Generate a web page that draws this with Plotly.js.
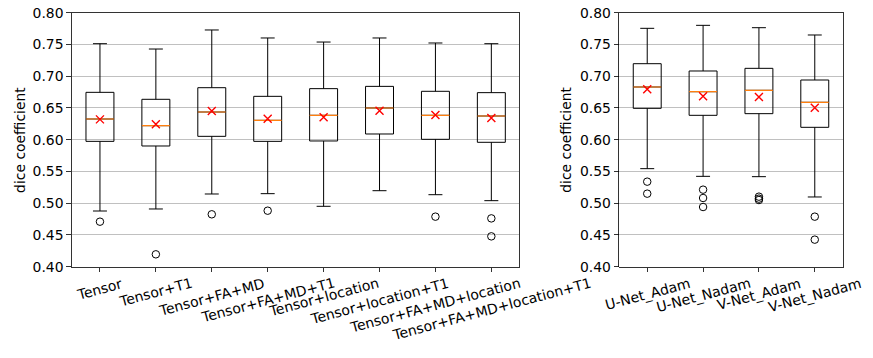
<!DOCTYPE html>
<html>
<head>
<meta charset="utf-8">
<script src="https://cdn.plot.ly/plotly-3.0.1.min.js"></script>
<style>html,body{margin:0;padding:0;background:#fff;}#chart{width:873px;height:358px;}</style>
</head>
<body>
<div id="chart"></div>
<script>
// ---- Left panel data ----
const leftLabels = ["Tensor","Tensor+T1","Tensor+FA+MD","Tensor+FA+MD+T1","Tensor+location","Tensor+location+T1","Tensor+FA+MD+location","Tensor+FA+MD+location+T1"];
const leftUpper  = [0.7512,0.7428,0.7728,0.7602,0.7538,0.7602,0.7523,0.7512];
const leftQ3     = [0.6746,0.6636,0.6819,0.6683,0.6804,0.6840,0.6762,0.6741];
const leftMedian = [0.6326,0.6221,0.6436,0.6305,0.6384,0.6499,0.6384,0.6373];
const leftQ1     = [0.5974,0.5901,0.6053,0.5974,0.5980,0.6090,0.6006,0.5959];
const leftLower  = [0.4877,0.4909,0.5145,0.5150,0.4951,0.5197,0.5134,0.5040];
const leftMean   = [0.632,0.6242,0.6452,0.6331,0.6352,0.6457,0.639,0.6342];
const leftOutliers = [[0.4709],[0.4195],[0.4825],[0.4882],[],[],[0.4788],[0.4761,0.4478]];

// ---- Right panel data ----
const rightLabels = ["U-Net_Adam","U-Net_Nadam","V-Net_Adam","V-Net_Nadam"];
const rightUpper  = [0.7754,0.7801,0.7764,0.7649];
const rightQ3     = [0.7197,0.7082,0.7124,0.6940];
const rightMedian = [0.6830,0.6756,0.6778,0.6589];
const rightQ1     = [0.6494,0.6384,0.6410,0.6195];
const rightLower  = [0.5544,0.5423,0.5418,0.5098];
const rightMean   = [0.6793,0.6683,0.6672,0.6504];
const rightOutliers = [[0.5339,0.5150],[0.5213,0.5082,0.4940],[0.5103,0.5072,0.5050],[0.4788,0.4426]];

const yTitle = "dice coefficient";

const FONT = "DejaVu Sans, sans-serif";
const FS = 13.9;
const BOXW = 0.5;

function panel(labels, upper, q3, med, q1, lower, mean, outl, xa, ya) {
  const idx = labels.map((_, i) => i);
  const traces = [];
  traces.push({
    type: 'box', x: idx, q1: q1, median: med, q3: q3,
    lowerfence: lower, upperfence: upper,
    boxpoints: false, width: BOXW, whiskerwidth: 0.5,
    line: {color: 'black', width: 1}, fillcolor: 'rgba(0,0,0,0)',
    xaxis: xa, yaxis: ya, hoverinfo: 'skip', showlegend: false
  });
  // median lines (orange)
  const mx = [], my = [];
  idx.forEach(i => { mx.push(i - BOXW/2, i + BOXW/2, null); my.push(med[i], med[i], null); });
  traces.push({type: 'scatter', mode: 'lines', x: mx, y: my,
    line: {color: '#ff7f0e', width: 1.2}, xaxis: xa, yaxis: ya, hoverinfo: 'skip', showlegend: false});
  // outliers
  const ox = [], oy = [];
  outl.forEach((arr, i) => arr.forEach(v => { ox.push(i); oy.push(v); }));
  traces.push({type: 'scatter', mode: 'markers', x: ox, y: oy,
    marker: {symbol: 'circle-open', size: 7.5, color: 'black', line: {width: 1, color: 'black'}},
    xaxis: xa, yaxis: ya, hoverinfo: 'skip', showlegend: false});
  // means
  traces.push({type: 'scatter', mode: 'markers', x: idx, y: mean,
    marker: {symbol: 'x-thin', size: 8, color: 'red', line: {width: 1.4, color: 'red'}},
    xaxis: xa, yaxis: ya, hoverinfo: 'skip', showlegend: false});
  return traces;
}

const data = [].concat(
  panel(leftLabels, leftUpper, leftQ3, leftMedian, leftQ1, leftLower, leftMean, leftOutliers, 'x', 'y'),
  panel(rightLabels, rightUpper, rightQ3, rightMedian, rightQ1, rightLower, rightMean, rightOutliers, 'x2', 'y2')
);

const yDomain = [1 - 266.7/358, 1 - 12.7/358];
function yAxis(anchor) {
  return {
    domain: yDomain, anchor: anchor, range: [0.4, 0.8], tickvals: [0.40,0.45,0.50,0.55,0.60,0.65,0.70,0.75,0.80],
    ticktext: ["0.40","0.45","0.50","0.55","0.60","0.65","0.70","0.75","0.80"],
    ticks: 'outside', ticklen: 4.9, tickwidth: 0.8, tickcolor: 'black',
    showline: true, mirror: true, linecolor: 'black', linewidth: 0.8,
    showgrid: true, gridcolor: '#b0b0b0', gridwidth: 0.8, zeroline: false,
    tickfont: {family: FONT, size: FS, color: 'black'}, fixedrange: true
  };
}
function xAxis(domain, n, anchor) {
  return {
    domain: domain, anchor: anchor, range: [-0.5, n - 0.5],
    tickvals: Array.from({length: n}, (_, i) => i), showticklabels: false,
    ticks: 'outside', ticklen: 4.9, tickwidth: 0.8, tickcolor: 'black',
    showline: true, mirror: true, linecolor: 'black', linewidth: 0.8,
    showgrid: false, zeroline: false, fixedrange: true
  };
}

const annotations = [];
const labelY = 1 - 273.5/358;
const labFont = {family: FONT, size: 14, color: 'black'};
leftLabels.forEach((t, i) => annotations.push({text: t, x: i, xref: 'x', y: labelY, yref: 'paper',
  xanchor: 'center', yanchor: 'top', textangle: -15, showarrow: false, borderpad: 0, font: labFont}));
rightLabels.forEach((t, i) => annotations.push({text: t, x: i, xref: 'x2', y: labelY, yref: 'paper',
  xanchor: 'center', yanchor: 'top', textangle: -15, showarrow: false, borderpad: 0, font: labFont}));
const titleY = 1 - 139.7/358;
[19.2/873, 566/873].forEach(px => annotations.push({text: yTitle, x: px, xref: 'paper', y: titleY, yref: 'paper',
  xanchor: 'center', yanchor: 'middle', textangle: -90, showarrow: false,
  font: {family: FONT, size: FS, color: 'black'}}));

const layout = {
  width: 873, height: 358, margin: {l: 0, r: 0, t: 0, b: 0},
  paper_bgcolor: 'white', plot_bgcolor: 'white', showlegend: false,
  xaxis: xAxis([72/873, 519.3/873], leftLabels.length, 'y'),
  yaxis: yAxis('x'),
  xaxis2: xAxis([619.3/873, 842.7/873], rightLabels.length, 'y2'),
  yaxis2: yAxis('x2'),
  annotations: annotations,
  font: {family: FONT, color: 'black'}
};

Plotly.newPlot('chart', data, layout, {staticPlot: true, displayModeBar: false});
</script>
</body>
</html>
